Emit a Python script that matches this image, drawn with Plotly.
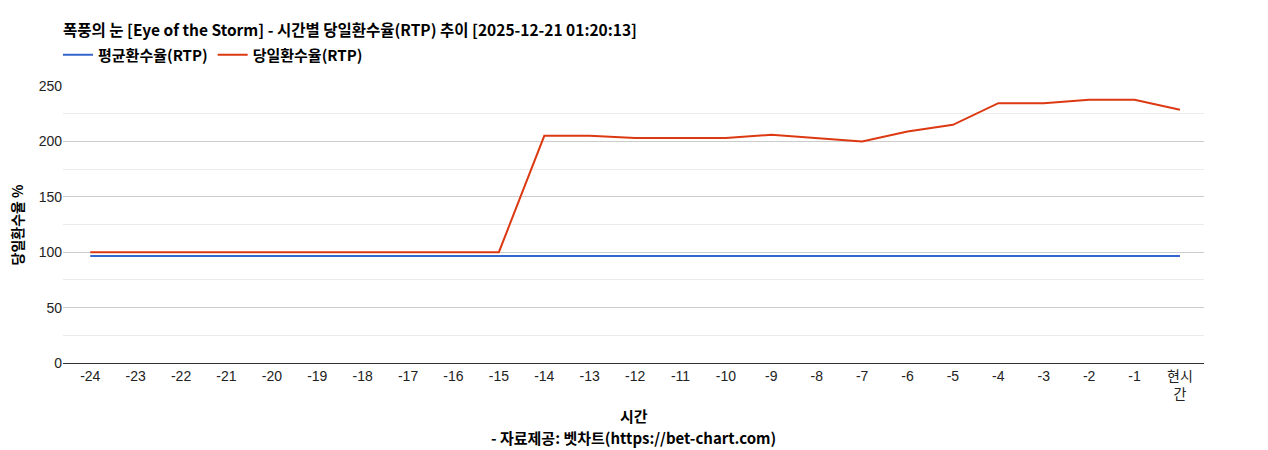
import plotly.graph_objects as go

hours = ["-24", "-23", "-22", "-21", "-20", "-19", "-18", "-17", "-16", "-15",
         "-14", "-13", "-12", "-11", "-10", "-9", "-8", "-7", "-6", "-5",
         "-4", "-3", "-2", "-1", "현시<br>간"]
avg_rtp = [96.6] * 25
day_rtp = [100, 100, 100, 100, 100, 100, 100, 100, 100, 100,
           205, 205, 203, 203, 203, 206, 203, 200, 209, 215,
           234.5, 234.5, 237.5, 237.5, 228.5]

base_font = "Arial, 'Liberation Sans', 'Noto Sans CJK KR', sans-serif"
bold_font = "'Noto Sans CJK KR', Arial, sans-serif"

# page has an 8px body margin, so the figure is sized/shifted to fit
W, H = 1260, 442
L, R, T, B = 55, 64, 78, 87
PW, PH = W - L - R, H - T - B

fig = go.Figure()
fig.add_trace(go.Scatter(x=hours, y=avg_rtp, mode="lines", name="평균환수율(RTP)",
                         line=dict(color="#3366cc", width=2)))
fig.add_trace(go.Scatter(x=hours, y=day_rtp, mode="lines", name="당일환수율(RTP)",
                         line=dict(color="#dc3912", width=2)))

fig.update_layout(
    width=W, height=H,
    margin=dict(l=L, r=R, t=T, b=B),
    plot_bgcolor="white", paper_bgcolor="white",
    font=dict(family=base_font, size=14, color="#222"),
    title=dict(text="<b>폭풍의 눈 [Eye of the Storm] - 시간별 당일환수율(RTP) 추이 [2025-12-21 01:20:13]</b>",
               x=L / W, xanchor="left", y=1 - 23 / H, yanchor="middle",
               font=dict(family=bold_font, size=15.5, color="#000")),
    legend=dict(orientation="h", x=-5 / PW, xanchor="left", y=1 + 31 / PH, yanchor="middle",
                font=dict(family=bold_font, size=15, color="#000", weight="bold"),
                itemwidth=30, tracegroupgap=0),
    showlegend=True,
)

fig.update_xaxes(type="category", range=[-0.6, 24.53], showgrid=False,
                 showline=True, linecolor="#333", linewidth=1, ticks="",
                 tickfont=dict(size=14, color="#222"), zeroline=False)
fig.update_yaxes(range=[0, 250], dtick=50, showgrid=True, gridcolor="#cccccc",
                 zeroline=False, showline=False, ticks="",
                 tickfont=dict(size=14, color="#222"),
                 minor=dict(dtick=25, showgrid=True, gridcolor="#ebebeb"))

fig.add_annotation(text="<b>당일환수율 %</b>", xref="paper", yref="paper",
                   x=-47 / PW, xanchor="center", y=0.5, yanchor="middle",
                   textangle=-90, showarrow=False,
                   font=dict(family=bold_font, size=14, color="#000"))
fig.add_annotation(text="<b>시간</b>", xref="paper", yref="paper",
                   x=0.5, y=-52 / PH, showarrow=False, yanchor="middle",
                   font=dict(family=bold_font, size=15, color="#000"))
fig.add_annotation(text="<b>- 자료제공: 벳차트(https://bet-chart.com)</b>", xref="paper", yref="paper",
                   x=0.5, y=-74 / PH, showarrow=False, yanchor="middle",
                   font=dict(family=bold_font, size=15, color="#000"))

fig.write_html("out.html")
